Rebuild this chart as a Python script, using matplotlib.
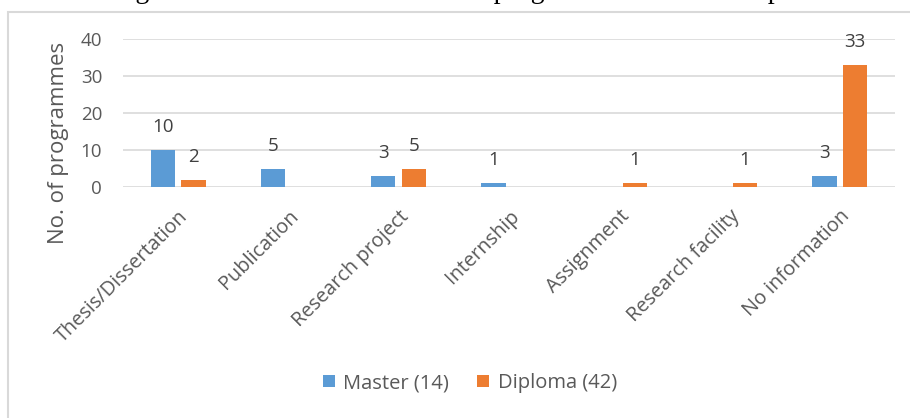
import matplotlib
matplotlib.use("Agg")
import matplotlib.pyplot as plt
import numpy as np
from matplotlib.patches import Rectangle

categories = ["Thesis/Dissertation", "Publication", "Research project", "Internship",
              "Assignment", "Research facility", "No information"]
master = [10, 5, 3, 1, 0, 0, 3]
diploma = [2, 0, 5, 0, 1, 1, 33]
series_names = ["Master (14)", "Diploma (42)"]
yticks = [0, 10, 20, 30, 40]
title = "Figure 3: Research element in the programmes and its components"

plt.rcParams['font.family'] = ['Open Sans', 'DejaVu Sans']
gray = "#595959"
blue = "#5B9BD5"
orange = "#ED7D31"

fig = plt.figure(figsize=(9.1, 4.18), dpi=100)
ax = fig.add_axes([123/910, 1-187/418, (895-123)/910, (187-39)/418])

x = np.arange(len(categories))
w = 0.22
off = 0.14
b1 = ax.bar(x - off, master, w, color=blue, label=series_names[0], zorder=3)
b2 = ax.bar(x + off, diploma, w, color=orange, label=series_names[1], zorder=3)

for bars, vals in ((b1, master), (b2, diploma)):
    for r, v in zip(bars, vals):
        if v:
            ax.annotate(str(v), (r.get_x() + r.get_width()/2, v), xytext=(0, 10),
                        textcoords="offset points", ha="center", va="bottom",
                        fontsize=13.5, color="#404040")

ax.set_xlim(-0.5, len(categories) - 0.5)
ax.set_ylim(0, 40)
ax.set_yticks(yticks)
ax.tick_params(axis='y', length=0, labelsize=13.5, labelcolor=gray, pad=15)
ax.tick_params(axis='x', length=0, labelsize=14.3, labelcolor=gray, pad=14)
ax.set_xticks(x)
ax.set_xticklabels(categories, rotation=45, ha='right', rotation_mode='anchor')
ax.grid(axis='y', color="#D9D9D9", linewidth=1.2, zorder=0)
for s in ax.spines.values():
    s.set_visible(False)
ax.set_ylabel("No. of programmes", fontsize=16, color=gray, va='center')
ax.yaxis.set_label_coords((59-123)/772, (187-143)/148)

leg = fig.legend(handles=[b1, b2], loc='center', bbox_to_anchor=(470/910, 1-383/418),
                 ncol=2, frameon=False, fontsize=14.5, handlelength=0.6, handleheight=0.6,
                 columnspacing=1.4, handletextpad=0.4)
for t in leg.get_texts():
    t.set_color(gray)

fig.patches.append(Rectangle((8/910, -0.1), 1.2, 1.1 - 12/418, transform=fig.transFigure,
                             fill=False, edgecolor="#D9D9D9", linewidth=1.5))

fig.text(112/910, 1 + 2/418, title, fontsize=20, family='Liberation Serif',
         ha='left', va='baseline', color='black')

fig.savefig("out.png", dpi=100)
